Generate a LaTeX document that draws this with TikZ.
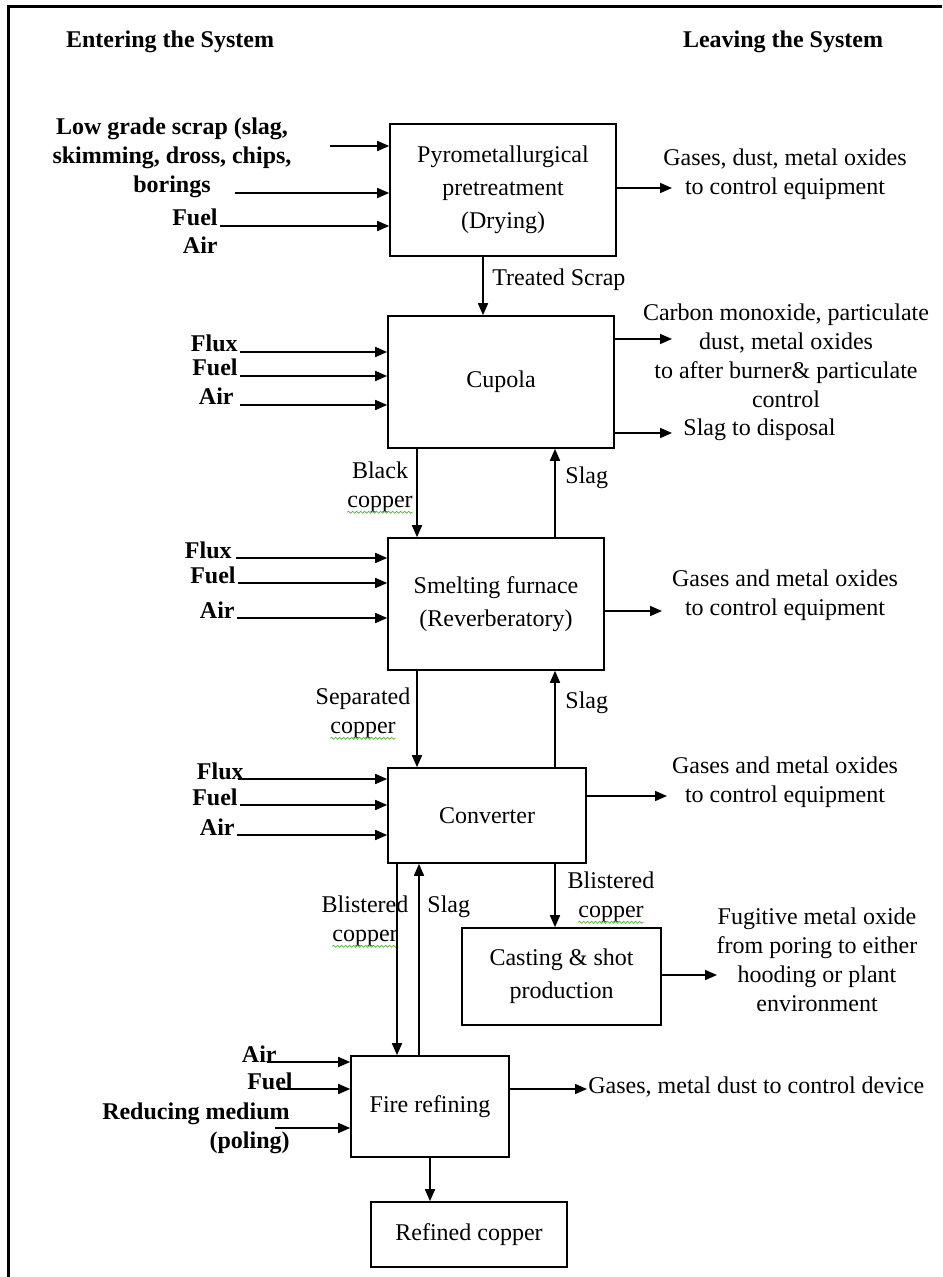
\documentclass[tikz,border=0pt,12pt]{standalone}
\usepackage{fontspec}
\setmainfont{Liberation Serif}
\usepackage{xcolor}
\usetikzlibrary{arrows.meta,decorations.pathmorphing}
\definecolor{spellg}{HTML}{5FB04A}
\newcommand\spellmark[1]{\tikz[baseline=(sw.base)]{\node[inner sep=0pt, outer sep=0pt] (sw) {#1};
  \draw[overlay, spellg, line width=0.4pt, decorate, decoration={snake, amplitude=0.5pt, segment length=2pt}] ([yshift=-2.5pt]sw.base west) -- ([yshift=-2.5pt]sw.base east);}}
\tikzset{
  box/.style={draw, line width=0.8pt, align=center, inner sep=2pt, font=\fontsize{12}{16.5}\selectfont},
  inl/.style={font=\bfseries, inner sep=1pt},
  outl/.style={align=center, inner sep=1pt},
  arr/.style={-{Triangle[length=6pt,width=5pt]}, line width=0.8pt},
  frm/.style={line width=1.5pt}}

\begin{document}
\begin{tikzpicture}[x=0.5pt, y=-0.5pt]
\useasboundingbox (0,0) rectangle (942,1277);
\draw[frm] (8,1277) -- (8,7) -- (942,7);
\node[font=\bfseries] (enter) at (170,42) {Entering the System};
\node[font=\bfseries] (leave) at (783,42) {Leaving the System};
\node[box, minimum width=113pt, minimum height=66pt] (pyro) at (503,190) {Pyrometallurgical\\pretreatment\\(Drying)};
\node[box, minimum width=113pt, minimum height=66pt] (cup) at (501,382) {Cupola};
\node[box, minimum width=108pt, minimum height=66pt] (sme) at (496,604) {Smelting furnace\\(Reverberatory)};
\node[box, minimum width=99pt, minimum height=47.5pt] (conv) at (487,815.5) {Converter};
\node[box, minimum width=99.5pt, minimum height=48.5pt] (cast) at (561.5,976.5) {Casting \& shot\\production};
\node[box, minimum width=79pt, minimum height=50.5pt] (fire) at (430,1106.5) {Fire refining};
\node[box, minimum width=98pt, minimum height=32.5pt] (ref) at (469,1234.5) {Refined copper};
\node[inl, align=center] (scrap) at (172,158) {Low grade scrap (slag,\\skimming, dross, chips,\\borings};
\coordinate (scrap1) at (330,146);
\coordinate (scrap2) at (235,193);
\node[inl, anchor=base east] (fuel0) at (220,226) {Fuel};
\node[inl, anchor=base east] (air0) at (220,254) {Air};
\draw[arr] (scrap1) -- (scrap1 -| pyro.west);
\draw[arr] (scrap2) -- (scrap2 -| pyro.west);
\draw[arr] (fuel0.base east) -- (fuel0.base east -| pyro.west);
\node[inl, anchor=base east] (flux1) at (240,352) {Flux};
\node[inl, anchor=base east] (fuel1) at (240,376) {Fuel};
\node[inl, anchor=base east] (air1) at (236,405) {Air};
\draw[arr] (flux1.base east) -- (flux1.base east -| cup.west);
\draw[arr] (fuel1.base east) -- (fuel1.base east -| cup.west);
\draw[arr] ([xshift=2pt]air1.base east) -- (air1.base east -| cup.west);
\node[inl, anchor=base east] (flux2) at (234,558) {Flux};
\node[inl, anchor=base east] (fuel2) at (238,583) {Fuel};
\node[inl, anchor=base east] (air2) at (237,618) {Air};
\draw[arr] ([xshift=1pt]flux2.base east) -- (flux2.base east -| sme.west);
\draw[arr] (fuel2.base east) -- (fuel2.base east -| sme.west);
\draw[arr] (air2.base east) -- (air2.base east -| sme.west);
\node[inl, anchor=base east] (flux3) at (246,779) {Flux};
\node[inl, anchor=base east] (fuel3) at (240,805) {Fuel};
\node[inl, anchor=base east] (air3) at (237,835) {Air};
\draw[arr] ([xshift=-4pt]flux3.base east) -- (flux3.base east -| conv.west);
\draw[arr] (fuel3.base east) -- (fuel3.base east -| conv.west);
\draw[arr] (air3.base east) -- (air3.base east -| conv.west);
\node[inl, anchor=base east] (air4) at (279,1062) {Air};
\node[inl, anchor=base east] (fuel4) at (295,1089) {Fuel};
\node[inl, align=right, anchor=east] (redm) at (292,1128) {Reducing medium\\(poling)};
\draw[arr] ([xshift=-6pt]air4.base east) -- (air4.base east -| fire.west);
\draw[arr] ([xshift=-8.5pt]fuel4.base east) -- (fuel4.base east -| fire.west);
\draw[arr] ([xshift=-8.5pt]redm.east) -- (redm.east -| fire.west);
\coordinate (o0) at (672,188);
\node[outl] (gas0) at (785,174) {Gases, dust, metal oxides\\to control equipment};
\draw[arr] (o0 -| pyro.east) -- (o0);
\coordinate (o1) at (672,339);
\coordinate (o2) at (672,433);
\node[outl] (co) at (786,356) {Carbon monoxide, particulate\\dust, metal oxides\\to after burner\& particulate\\control};
\node[outl, anchor=west] (slagd) at (681,430) {Slag to disposal};
\draw[arr] (o1 -| cup.east) -- (o1);
\draw[arr] (o2 -| cup.east) -- (o2);
\coordinate (o3) at (662,611);
\node[outl] (gas1) at (785,595) {Gases and metal oxides\\to control equipment};
\draw[arr] (o3 -| sme.east) -- (o3);
\coordinate (o4) at (667,796);
\node[outl] (gas2) at (785,782) {Gases and metal oxides\\to control equipment};
\draw[arr] (o4 -| conv.east) -- (o4);
\coordinate (o5) at (717,975);
\node[outl] (fug) at (817,960) {Fugitive metal oxide\\from poring to either\\hooding or plant\\environment};
\draw[arr] (o5 -| cast.east) -- (o5);
\coordinate (o6) at (587,1089);
\node[outl, anchor=west] (gas3) at (586,1087) {Gases, metal dust to control device};
\draw[arr] (o6 -| fire.east) -- (o6);
\node[outl, anchor=west] (ts) at (490,280) {Treated Scrap};
\node[outl] (bc1) at (380,487) {Black\\\spellmark{copper}};
\node[outl, anchor=west] (sl1) at (563,478) {Slag};
\node[outl] (sc) at (363,713) {Separated\\\spellmark{copper}};
\node[outl, anchor=west] (sl2) at (563,703) {Slag};
\node[outl] (bc2) at (611,897) {Blistered\\\spellmark{copper}};
\node[outl] (bc3) at (365,921) {Blistered\\\spellmark{copper}};
\node[outl, anchor=west] (sl3) at (425,907) {Slag};
\draw[arr] ([xshift=-10pt]pyro.south) -- ([xshift=-10pt]pyro.south |- cup.north);
\draw[arr] ([xshift=-42pt]cup.south) -- ([xshift=-42pt]cup.south |- sme.north);
\draw[arr] ([xshift=29.5pt]sme.north) -- ([xshift=29.5pt]sme.north |- cup.south);
\draw[arr] ([xshift=-39.5pt]sme.south) -- ([xshift=-39.5pt]sme.south |- conv.north);
\draw[arr] ([xshift=34pt]conv.north) -- ([xshift=34pt]conv.north |- sme.south);
\draw[arr] ([xshift=34pt]conv.south) -- ([xshift=34pt]conv.south |- cast.north);
\draw[arr] ([xshift=-45pt]conv.south) -- ([xshift=-45pt]conv.south |- fire.north);
\draw[arr] ([xshift=-5.5pt]fire.north) -- ([xshift=-5.5pt]fire.north |- conv.south);
\draw[arr] (fire.south) -- (fire.south |- ref.north);
\end{tikzpicture}
\end{document}
